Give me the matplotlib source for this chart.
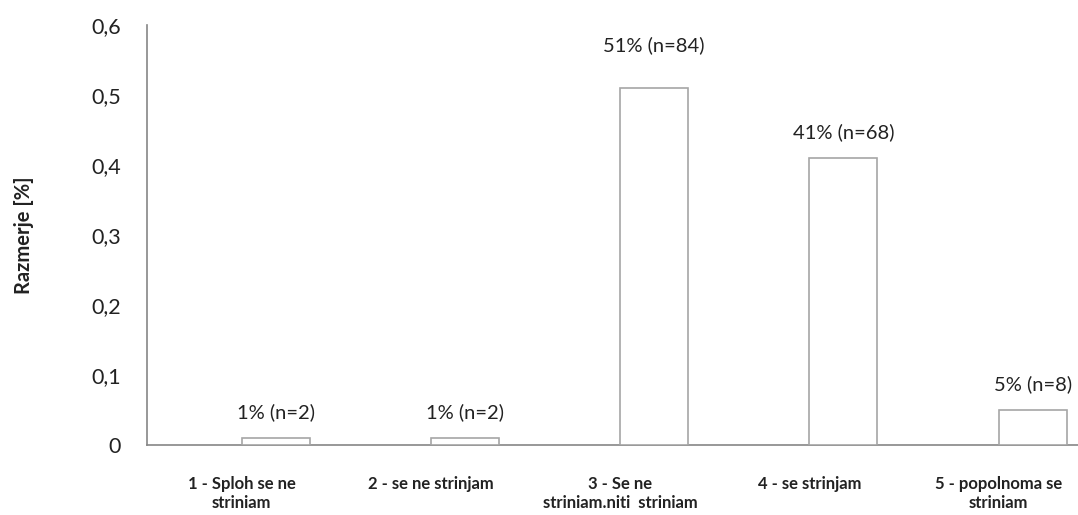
import matplotlib
matplotlib.use("Agg")
from matplotlib import pyplot as plt
from matplotlib.ticker import FuncFormatter

categories = ["1 - Sploh se ne\nstriniam", "2 - se ne strinjam",
              "3 - Se ne\nstriniam.niti  striniam", "4 - se strinjam",
              "5 - popolnoma se\nstriniam"]
shares = [0.01, 0.01, 0.51, 0.41, 0.05]
counts = [2, 2, 84, 68, 8]
y_ticks = [0, 0.1, 0.2, 0.3, 0.4, 0.5, 0.6]

plt.rcParams['font.family'] = ['Lato', 'DejaVu Sans']

fig = plt.figure(figsize=(10.78, 5.15), dpi=100)
ax = fig.add_axes([0.1364, 0.136, 0.8636, 0.815])

bar_w = 0.36
xs = list(range(len(categories)))
# empty first series in excel -> bars sit right of the category centre
ax.bar(xs, shares, width=bar_w, align='edge', color='white',
       edgecolor='#a6a6a6', linewidth=1.2, zorder=3)

for i, (v, n) in enumerate(zip(shares, counts)):
    pad = 0.061 if i == 2 else 0.037
    ax.text(i + bar_w / 2, v + pad, "%d%% (n=%d)" % (round(v * 100), n),
            ha='center', va='center', fontsize=14.5, color='#222222')

ax.set_xlim(-0.5, 4.42)
ax.set_ylim(0, 0.6)
ax.set_yticks(y_ticks)
ax.yaxis.set_major_formatter(FuncFormatter(
    lambda v, p: ('%g' % round(v, 2)).replace('.', ',')))
ax.set_xticks(xs)
ax.set_xticklabels(categories, fontsize=12, fontweight='bold', color='#222222',
                   linespacing=1.25)
ax.tick_params(axis='y', length=0, pad=19, labelsize=15.5, labelcolor='#222222')
ax.tick_params(axis='x', length=0, pad=22)

for s in ['top', 'right']:
    ax.spines[s].set_visible(False)
for s in ['left', 'bottom']:
    ax.spines[s].set_color('#868686')
    ax.spines[s].set_linewidth(1.2)

ax.set_ylabel("Razmerje [%]", fontsize=14.5, fontweight='bold', color='#222222')
ax.yaxis.set_label_coords(-0.121, 0.5)

fig.savefig("out.png", dpi=100)
